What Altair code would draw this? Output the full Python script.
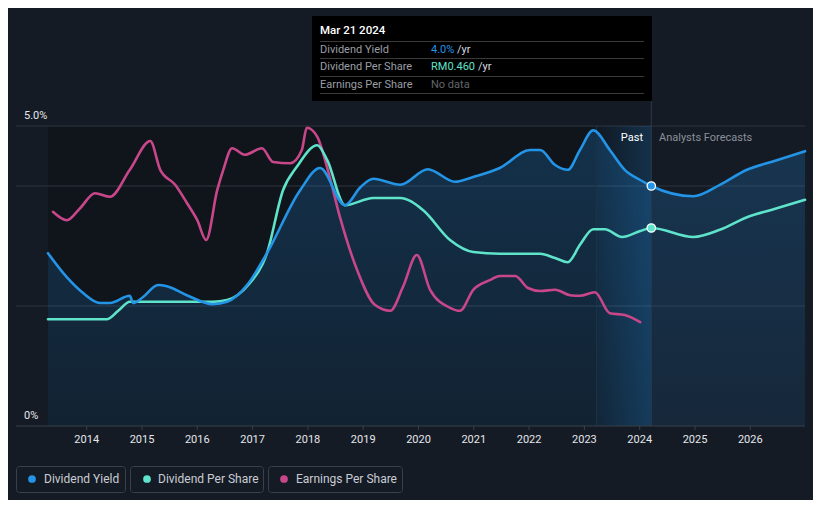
import altair as alt
import pandas as pd

# ---------------- data ----------------
dy_year = [2013.30, 2013.64, 2013.93, 2014.24, 2014.42, 2014.78, 2014.84, 2015.02, 2015.29, 2015.45,
           2015.81, 2016.28, 2016.54, 2016.90, 2017.26, 2017.86, 2018.22, 2018.67, 2018.95, 2019.18,
           2019.67, 2020.17, 2020.66, 2020.99, 2021.47, 2022.02, 2022.20, 2022.47, 2022.70, 2022.92,
           2023.16, 2023.46, 2023.73, 2024.01, 2024.21, 2024.97, 2025.45, 2025.94, 2026.45, 2026.99]
dy_val = [2.88, 2.48, 2.22, 2.05, 2.05, 2.17, 2.05, 2.15, 2.35, 2.33,
          2.18, 2.03, 2.07, 2.35, 2.88, 3.93, 4.30, 3.68, 3.98, 4.12,
          4.02, 4.28, 4.07, 4.15, 4.30, 4.60, 4.60, 4.35, 4.27, 4.60,
          4.93, 4.60, 4.27, 4.10, 4.00, 3.83, 4.02, 4.27, 4.42, 4.58]

dps_year = [2013.30, 2014.37, 2014.57, 2014.78, 2016.28, 2016.54, 2016.92, 2017.26, 2017.55, 2017.80,
            2018.17, 2018.35, 2018.67, 2019.18, 2019.67, 2020.08, 2020.57, 2020.99, 2021.47, 2022.20,
            2022.47, 2022.70, 2022.92, 2023.16, 2023.37, 2023.68, 2024.01, 2024.21, 2024.97, 2025.45,
            2025.94, 2026.45, 2026.99]
dps_val = [1.78, 1.78, 1.92, 2.07, 2.07, 2.10, 2.35, 2.88, 3.93, 4.32,
           4.68, 4.43, 3.68, 3.80, 3.80, 3.60, 3.10, 2.90, 2.87, 2.87,
           2.80, 2.73, 3.02, 3.28, 3.28, 3.15, 3.25, 3.30, 3.15, 3.27,
           3.48, 3.62, 3.77]

eps_year = [2013.39, 2013.64, 2013.88, 2014.15, 2014.42, 2014.78, 2015.15, 2015.33, 2015.60, 2015.81,
            2016.00, 2016.16, 2016.36, 2016.47, 2016.63, 2016.86, 2017.17, 2017.37, 2017.68, 2017.89,
            2017.98, 2018.17, 2018.36, 2018.58, 2018.89, 2019.21, 2019.49, 2019.72, 2019.97, 2020.21,
            2020.57, 2020.75, 2020.99, 2021.29, 2021.47, 2021.75, 2021.98, 2022.20, 2022.47, 2022.74,
            2022.92, 2023.19, 2023.46, 2023.73, 2024.01]
eps_val = [3.57, 3.43, 3.63, 3.88, 3.82, 4.27, 4.75, 4.27, 4.02, 3.72,
           3.43, 3.10, 3.93, 4.27, 4.63, 4.52, 4.63, 4.40, 4.38, 4.60,
           4.97, 4.82, 4.27, 3.48, 2.60, 2.02, 1.92, 2.32, 2.85, 2.27,
           1.97, 1.92, 2.27, 2.43, 2.50, 2.50, 2.30, 2.25, 2.27, 2.18,
           2.17, 2.23, 1.88, 1.85, 1.73]

year_ticks = list(range(2014, 2027))
grid_vals = [5.0, 4.0, 2.0]
y_labels = ["5.0%", "0%"]
y_label_vals = [5.0, 0.0]

now_year = 2024.21
band_start = 2023.22
marker_vals = [4.00, 3.30]

series_names = ["Dividend Yield", "Dividend Per Share", "Earnings Per Share"]
series_colors = ["#2394e6", "#5fe3cb", "#c8478a"]

tip_date = "Mar 21 2024"
tip_values = ["4.0%", "RM0.460", "No data"]
tip_units = [" /yr", " /yr", ""]

# ---------------- geometry / scales ----------------
W, H = 805, 492
X_DOMAIN = [2012.5769, 2027.1340]
Y_DOMAIN = [-1.23333, 6.96667]
xs = alt.Scale(domain=X_DOMAIN, nice=False, zero=False)
ys = alt.Scale(domain=Y_DOMAIN, nice=False, zero=False)
FONT = "Roboto"
one = pd.DataFrame({"a": [0]})


def X(field):
    return alt.X(field, type="quantitative", scale=xs, axis=None)


def Y(field):
    return alt.Y(field, type="quantitative", scale=ys, axis=None)


layers = []

# darker past plot region
layers.append(
    alt.Chart(one).mark_rect(color="#10151c").encode(
        x=alt.XDatum(dy_year[0], scale=xs, axis=None), x2=alt.X2Datum(now_year),
        y=alt.YDatum(0, scale=ys, axis=None), y2=alt.Y2Datum(5.0))
)

# gridlines
grid_df = pd.DataFrame({"g": grid_vals})
layers.append(
    alt.Chart(grid_df).mark_rule(color="#2f353e", strokeWidth=1).encode(
        y=Y("g"), x=alt.value(8), x2=alt.value(797))
)

# area under dividend yield
dy_df = pd.DataFrame({"year": dy_year, "val": dy_val})
area_grad = alt.Gradient(
    gradient="linear",
    stops=[alt.GradientStop(color="rgba(33,150,243,0.10)", offset=0),
           alt.GradientStop(color="rgba(33,150,243,0.22)", offset=1)],
    x1=1, x2=1, y1=1, y2=0)
layers.append(
    alt.Chart(dy_df).mark_area(interpolate="monotone", color=area_grad).encode(
        x=X("year"), y=Y("val"), y2=alt.Y2Datum(0))
)

# highlighted band (last year of past)
band_grad = alt.Gradient(
    gradient="linear",
    stops=[alt.GradientStop(color="rgba(33,150,243,0.03)", offset=0),
           alt.GradientStop(color="rgba(33,150,243,0.22)", offset=1)],
    x1=0, x2=1, y1=0, y2=0)
layers.append(
    alt.Chart(one).mark_rect(color=band_grad).encode(
        x=alt.XDatum(band_start, scale=xs, axis=None), x2=alt.X2Datum(now_year),
        y=alt.YDatum(0, scale=ys, axis=None), y2=alt.Y2Datum(5.0))
)
layers.append(
    alt.Chart(one).mark_rule(color="#1d3448", strokeWidth=1).encode(
        x=alt.XDatum(band_start, scale=xs, axis=None),
        y=alt.YDatum(0, scale=ys, axis=None), y2=alt.Y2Datum(5.0))
)
# now line
layers.append(
    alt.Chart(one).mark_rule(color="#2a3a4b", strokeWidth=1).encode(
        x=alt.XDatum(now_year, scale=xs, axis=None),
        y=alt.YDatum(0, scale=ys, axis=None), y2=alt.value(93))
)

# axis line + ticks + labels
layers.append(
    alt.Chart(one).mark_rule(color="#3a404a", strokeWidth=1).encode(
        y=alt.YDatum(0, scale=ys, axis=None), x=alt.value(8), x2=alt.value(797))
)
ticks_df = pd.DataFrame({"yr": year_ticks})
layers.append(
    alt.Chart(ticks_df).mark_rule(color="#3a404a", strokeWidth=1).encode(
        x=X("yr"), y=alt.value(418), y2=alt.value(422))
)
layers.append(
    alt.Chart(ticks_df).mark_text(font=FONT, fontSize=11, color="#e4e7eb", baseline="middle").encode(
        x=X("yr"), y=alt.value(432), text=alt.Text("yr:Q", format="d"))
)
ylab_df = pd.DataFrame({"v": y_label_vals, "t": y_labels})
layers.append(
    alt.Chart(ylab_df).mark_text(font=FONT, fontSize=11, color="#e4e7eb", align="left",
                                 baseline="bottom", dx=0, dy=-5).encode(
        x=alt.value(16), y=Y("v"), text="t:N")
)

# series lines
dps_df = pd.DataFrame({"year": dps_year, "val": dps_val})
eps_df = pd.DataFrame({"year": eps_year, "val": eps_val})
for df, col in [(eps_df, series_colors[2]), (dps_df, series_colors[1]), (dy_df, series_colors[0])]:
    layers.append(
        alt.Chart(df).mark_line(interpolate="monotone", strokeWidth=2.6, color=col,
                                strokeCap="round").encode(x=X("year"), y=Y("val"))
    )

# markers at "now"
for v, col in zip(marker_vals, series_colors[:2]):
    layers.append(
        alt.Chart(one).mark_point(filled=True, size=70, color=col, stroke="#ffffff",
                                  strokeWidth=1.3, opacity=1).encode(
            x=alt.XDatum(now_year, scale=xs, axis=None), y=alt.YDatum(v, scale=ys, axis=None))
    )

# Past / Analysts Forecasts
layers.append(alt.Chart(one).mark_text(text="Past", font=FONT, fontSize=11, color="#ffffff",
                                       align="right", baseline="middle").encode(
    x=alt.value(635), y=alt.value(130)))
layers.append(alt.Chart(one).mark_text(text="Analysts Forecasts", font=FONT, fontSize=11,
                                       color="#8b9099", align="left", baseline="middle").encode(
    x=alt.value(651), y=alt.value(130)))

# tooltip box
layers.append(alt.Chart(one).mark_rect(color="#000000").encode(
    x=alt.value(304), x2=alt.value(644), y=alt.value(8), y2=alt.value(93)))
layers.append(alt.Chart(one).mark_text(text=tip_date, font=FONT, fontSize=11.5, color="#ffffff",
                                       fontWeight=500, align="left", baseline="middle").encode(
    x=alt.value(312), y=alt.value(23)))
for yy in [33.5, 50.5, 68.5, 85.5]:
    layers.append(alt.Chart(one).mark_rule(color="#3a3a3a", strokeWidth=1).encode(
        x=alt.value(312), x2=alt.value(636), y=alt.value(yy)))
tip_colors = [series_colors[0], series_colors[1], "#62666c"]
unit_x = [449, 470, 0]
for i, (name, val, unit, tc) in enumerate(zip(series_names, tip_values, tip_units, tip_colors)):
    yy = 41.5 + i * 17.5
    layers.append(alt.Chart(one).mark_text(text=name, font=FONT, fontSize=11, color="#9a9ea5",
                                           align="left", baseline="middle").encode(
        x=alt.value(312), y=alt.value(yy)))
    layers.append(alt.Chart(one).mark_text(text=val, font=FONT, fontSize=11, color=tc,
                                           align="left", baseline="middle").encode(
        x=alt.value(423), y=alt.value(yy)))
    if unit:
        layers.append(alt.Chart(one).mark_text(text=unit.strip(), font=FONT, fontSize=11,
                                               color="#d8dbe0", align="left",
                                               baseline="middle").encode(
            x=alt.value(unit_x[i]), y=alt.value(yy)))

# legend
box_x = [(8.5, 117.5), (122.5, 255.5), (260.5, 394.5)]
dot_x = [24, 139, 276]
txt_x = [36, 150, 288]
for (bx1, bx2), dx, tx, name, col in zip(box_x, dot_x, txt_x, series_names, series_colors):
    layers.append(alt.Chart(one).mark_rect(fillOpacity=0, stroke="#3b414b", strokeWidth=1,
                                           cornerRadius=3).encode(
        x=alt.value(bx1), x2=alt.value(bx2), y=alt.value(458.5), y2=alt.value(484.5)))
    layers.append(alt.Chart(one).mark_point(filled=True, size=60, color=col, opacity=1).encode(
        x=alt.value(dx), y=alt.value(471)))
    layers.append(alt.Chart(one).mark_text(text=name, font=FONT, fontSize=12, color="#c9cdd3",
                                           align="left", baseline="middle").encode(
        x=alt.value(tx), y=alt.value(471)))

chart = alt.layer(*layers).properties(
    width=W, height=H, autosize=alt.AutoSizeParams(type="none"), padding=0,
    background="#151b25"
).configure_view(stroke=None)

chart.save("out.html", embed_options={"renderer": "svg", "actions": False})
